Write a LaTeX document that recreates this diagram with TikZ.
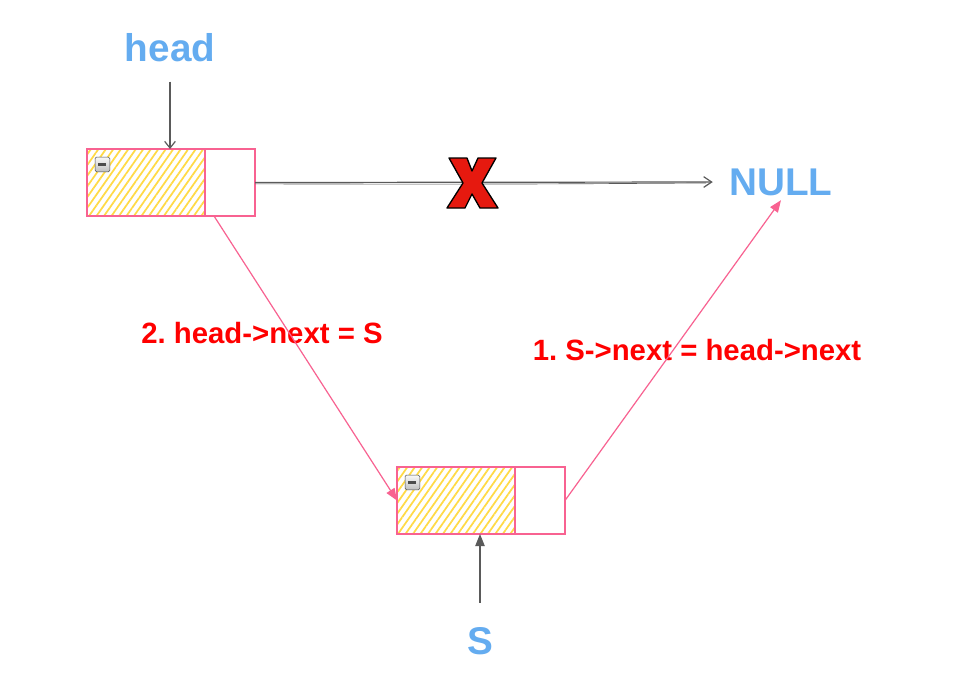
\documentclass[tikz,border=0pt]{standalone}
\usepackage{fontspec}
\setmainfont{Liberation Sans}
\usetikzlibrary{positioning,arrows.meta,patterns.meta}
\frenchspacing
\definecolor{cellpink}{RGB}{248,98,145}
\definecolor{hatchyellow}{RGB}{255,218,70}
\definecolor{labelblue}{RGB}{100,172,240}
\definecolor{linegray}{RGB}{90,90,90}
\tikzset{
  datacell/.style = {rectangle, draw=cellpink, line width=1.5pt, minimum width=88.5pt, minimum height=50.25pt,
    inner sep=0pt, outer sep=0pt, pattern={Lines[angle=55,distance=4.6pt,line width=1.3pt]}, pattern color=hatchyellow},
  nextcell/.style = {rectangle, draw=cellpink, line width=1.5pt, minimum width=37.5pt, minimum height=50.25pt,
    inner sep=0pt, outer sep=0pt, fill=white},
  minusicon/.style = {rectangle, draw=gray!60!black, rounded corners=1pt, minimum size=11pt, inner sep=0pt,
    top color=gray!5, bottom color=gray!50,
    path picture={\draw[line width=1.6pt] ([xshift=2.5pt]path picture bounding box.west) -- ([xshift=-2.5pt]path picture bounding box.east);}},
  ptrname/.style = {text=labelblue, font=\fontsize{29}{34}\selectfont\bfseries},
  steplabel/.style = {text=red, font=\fontsize{22}{26}\selectfont\bfseries},
  grayarrow/.style = {draw=linegray, line width=0.9pt},
  pinkarrow/.style = {draw=cellpink, line width=0.9pt, -{Triangle[length=9pt,width=7pt]}},
}
\begin{document}
\begin{tikzpicture}[x=0.75pt, y=-0.75pt]
\useasboundingbox[fill=white] (0,0) rectangle (976,696);
% list head and its old successor
\node [datacell] (hd) at (146,182.5) {};
\node [nextcell, right=0pt of hd] (hn) {};
\node [minusicon] at ([shift={(11.6pt,-11.6pt)}]hd.north west) {};
\node [ptrname] (head) at (170,48) {head};
\node [ptrname] (null) at (781,182) {NULL};
% new node S
\node [datacell] (sd) at (456,500.5) {};
\node [nextcell, right=0pt of sd] (sn) {};
\node [minusicon] at ([shift={(11.6pt,-11.6pt)}]sd.north west) {};
\node [ptrname] (S) at (480,641) {S};
% step labels
\node [steplabel] (step2) at (262,333) {2. head->next = S};
\node [steplabel] (step1) at (697,350) {1. S->next = head->next};
% pointers
\draw [grayarrow, -{Straight Barb[length=5pt,width=8pt]}, shorten <=11pt] (head.south) -- (head.south |- hd.north);
\draw [grayarrow, -{Triangle[length=9pt,width=7pt]}, shorten <=15pt] (S.north) -- (S.north |- sd.south);
\draw [grayarrow, -{Straight Barb[length=6pt,width=8pt]}, shorten >=9pt] (hn.east) -- (null.west);
\draw [draw=linegray, line width=0.5pt, shorten >=14pt] ([yshift=-1pt]hn.east) to[bend right=0.3] ([yshift=-0.6pt]null.west);
% the old link is cut
\draw [fill={rgb,255:red,230;green,25;blue,15}, draw=black, line width=1pt, line join=round]
  (449,158) -- (467,158) -- (472,171) -- (478,158) -- (496,158) -- (482,183) -- (498,208)
  -- (480,208) -- (472,194) -- (465,208) -- (447,208) -- (463,183) -- cycle;
% new links
\draw [pinkarrow] ([xshift=6.75pt]hn.south west) -- (sd.west);
\draw [pinkarrow] (sn.east) -- (null.south);
\end{tikzpicture}
\end{document}
